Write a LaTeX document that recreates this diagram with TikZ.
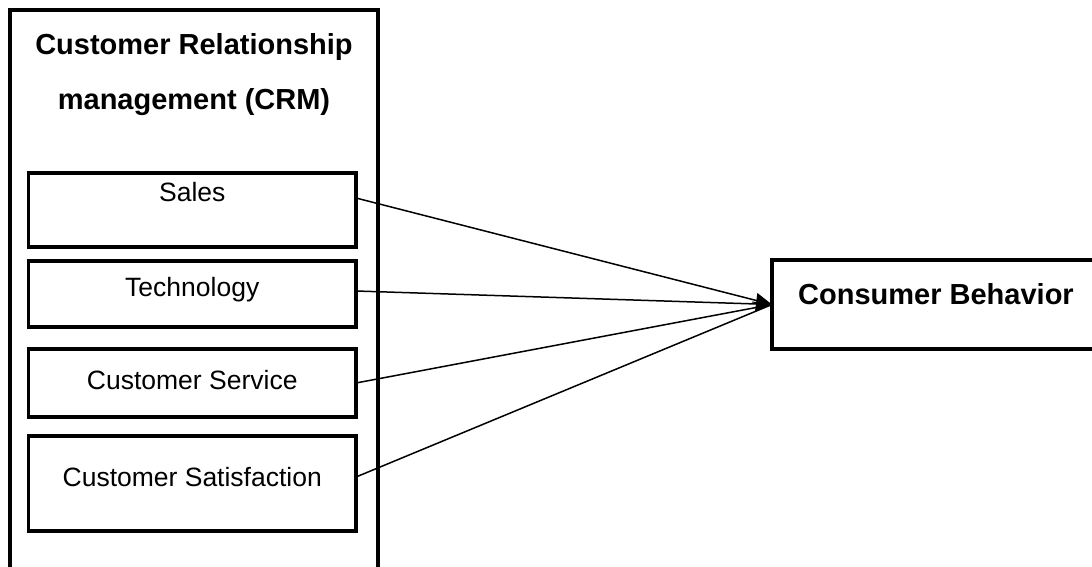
\documentclass[tikz,border=0pt]{standalone}
\usepackage{fontspec}
\setmainfont{Liberation Sans}
\usetikzlibrary{arrows.meta}
\begin{document}
\begin{tikzpicture}[x=1pt,y=-1pt,
  frame/.style={draw=black,line width=3.5pt,fill=white,inner sep=0pt,outer sep=0pt,rectangle},
  itemtext/.style={font=\fontsize{26.5}{30}\selectfont,inner sep=0pt},
  boldtext/.style={font=\fontsize{29}{55}\selectfont\bfseries,inner sep=0pt,align=center},
  conn/.style={draw=black,line width=1.5pt}]
\useasboundingbox (0,0) rectangle (1092,567);
\begin{scope}
\clip (0,0) rectangle (1092,567);
% outer CRM frame
\node[frame,minimum width=368pt,minimum height=575pt] (crm) at (194,297.5) {};
\node[boldtext] (crmtitle) at (194,75) {Customer Relationship\\management (CRM)};
% inner boxes
\node[frame,minimum width=327.5pt,minimum height=74pt] (sales) at (192.25,210) {};
\node[itemtext] (salest) at (192.25,192) {Sales};
\node[frame,minimum width=327.5pt,minimum height=66pt] (tech) at (192.25,294) {};
\node[itemtext] (techt) at (192.25,290) {Technology};
\node[frame,minimum width=327.5pt,minimum height=68pt] (serv) at (192.25,383) {};
\node[itemtext] (servt) at (192.25,380) {Customer Service};
\node[frame,minimum width=327.5pt,minimum height=95pt] (satis) at (192.25,483.5) {};
\node[itemtext] (satist) at (192.25,477) {Customer Satisfaction};
% consumer behavior
\node[frame,minimum width=338pt,minimum height=89pt] (cb) at (941,304.5) {};
\node[boldtext] (cbt) at (936,294) {Consumer Behavior};
% connectors
\coordinate (tip) at (cb.west);
\draw[conn] ([yshift=12pt]sales.east) -- (tip);
\draw[conn] ([yshift=3pt]tech.east) -- (tip);
\draw[conn] (serv.east) -- (tip);
\draw[conn] ([yshift=6.5pt]satis.east) -- (tip);
\coordinate (tail) at (752,302);
\draw[line width=1pt,-{Triangle[length=16pt,width=19pt]}] (tail) -- (tip);
\end{scope}
\end{tikzpicture}
\end{document}
